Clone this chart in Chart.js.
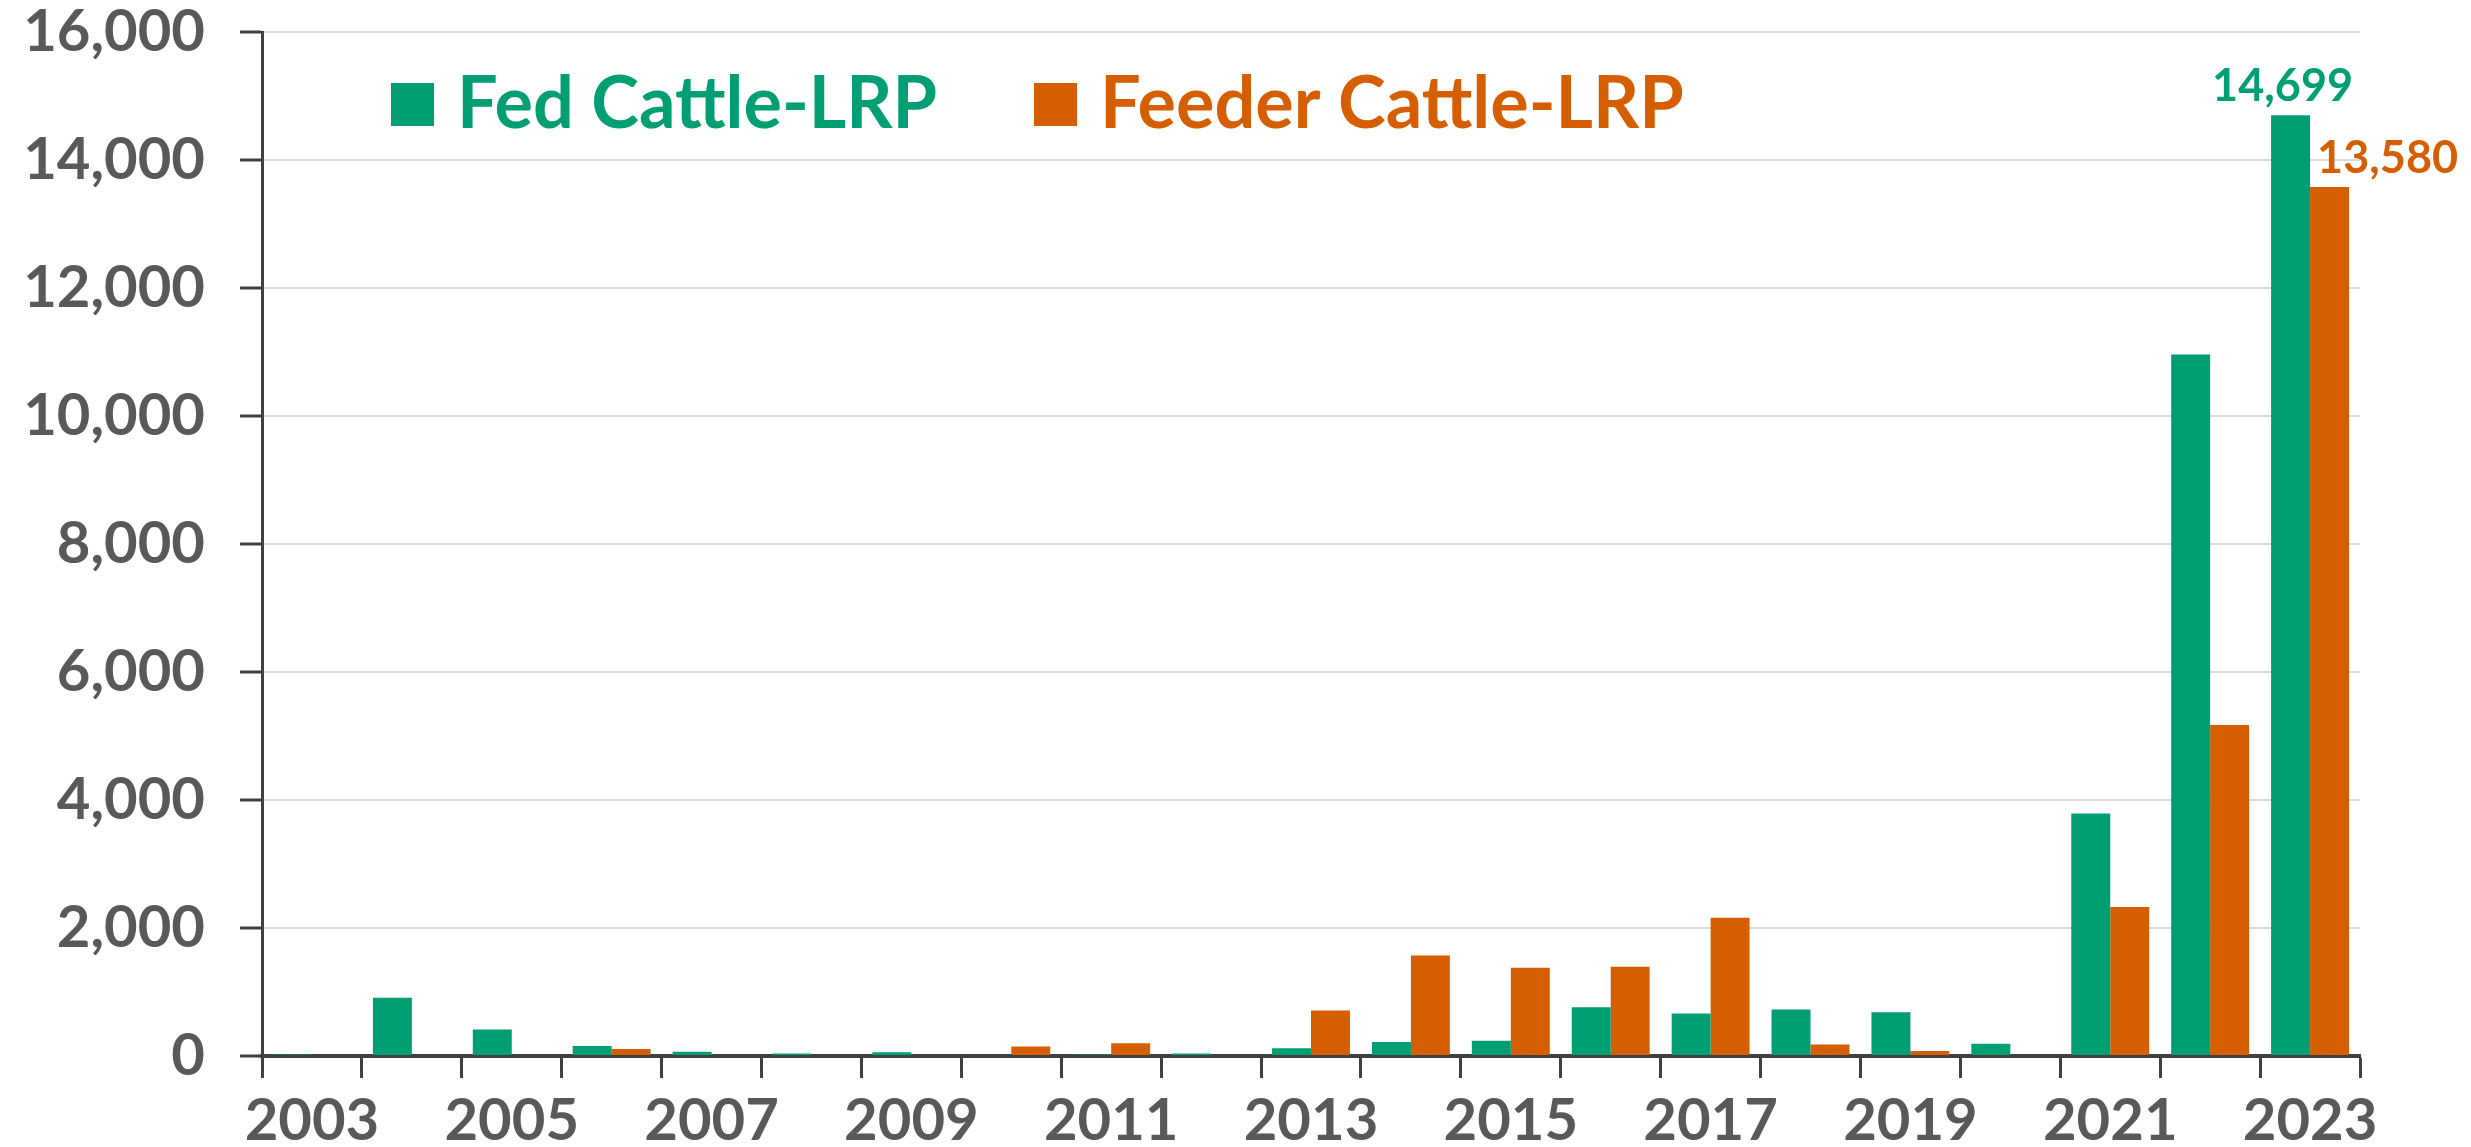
<!DOCTYPE html>
<html lang="en">
<head>
<meta charset="UTF-8">
<title>Cattle LRP</title>
<script src="https://cdn.jsdelivr.net/npm/chart.js"></script>
<style>
    html, body {
        margin: 0;
        padding: 0;
        background: #fff;
    }
    #wrap {
        width: 2471px;
        height: 1147px;
    }
</style>
</head>
<body>
<div id="wrap"><canvas id="lrpChart" width="2471" height="1147"></canvas></div>

<script>
    // data
    const years = ['2003', '2004', '2005', '2006', '2007', '2008', '2009', '2010', '2011', '2012', '2013',
        '2014', '2015', '2016', '2017', '2018', '2019', '2020', '2021', '2022', '2023'];
    const fedCattle = [25, 910, 415, 155, 65, 40, 60, 0, 25, 40, 120,
        220, 240, 760, 665, 725, 685, 190, 3790, 10960, 14699];
    const feederCattle = [0, 0, 0, 110, 0, 0, 0, 150, 200, 0, 710,
        1570, 1380, 1395, 2160, 180, 80, 0, 2330, 5170, 13580];
    const seriesNames = ['Fed Cattle-LRP', 'Feeder Cattle-LRP'];
    const yMax = 16000;
    const yStep = 2000;

    const green = '#009E73';
    const orange = '#D55E00';
    const textGray = '#595959';
    const axisDark = '#404040';
    const fontFam = 'Lato, "Open Sans", sans-serif';

    function fmt(v) {
        return Number(v).toLocaleString('en-US');
    }

    // legend drawn inside the plot area
    const innerLegend = {
        id: 'innerLegend',
        afterDraw(chart) {
            const ctx = chart.ctx;
            const items = [
                {text: seriesNames[0], color: green, x: 391},
                {text: seriesNames[1], color: orange, x: 1034}
            ];
            ctx.save();
            ctx.font = 'bold 72px ' + fontFam;
            ctx.textAlign = 'left';
            ctx.textBaseline = 'alphabetic';
            items.forEach(it => {
                ctx.fillStyle = it.color;
                ctx.fillRect(it.x, 83, 43, 43);
                ctx.fillText(it.text, it.x + 66, 128);
            });
            ctx.restore();
        }
    };

    // value labels only on the last year
    const lastLabels = {
        id: 'lastLabels',
        afterDatasetsDraw(chart) {
            const ctx = chart.ctx;
            const last = years.length - 1;
            const g = chart.getDatasetMeta(0).data[last];
            const o = chart.getDatasetMeta(1).data[last];
            ctx.save();
            ctx.font = 'bold 45px ' + fontFam;
            ctx.textBaseline = 'alphabetic';
            ctx.fillStyle = green;
            ctx.textAlign = 'center';
            ctx.fillText(fmt(fedCattle[last]), g.x - 8, g.y - 14);
            ctx.fillStyle = orange;
            ctx.textAlign = 'left';
            ctx.fillText(fmt(feederCattle[last]), o.x - o.width / 2 + 7, o.y - 14);
            ctx.restore();
        }
    };

    const ctx = document.getElementById('lrpChart').getContext('2d');
    const lrpChart = new Chart(ctx, {
        type: 'bar',
        data: {
            labels: years,
            datasets: [{
                label: seriesNames[0],
                data: fedCattle,
                backgroundColor: green,
                borderWidth: 0
            }, {
                label: seriesNames[1],
                data: feederCattle,
                backgroundColor: orange,
                borderWidth: 0
            }]
        },
        options: {
            responsive: false,
            animation: false,
            devicePixelRatio: 1,
            categoryPercentage: 0.78,
            barPercentage: 1.0,
            layout: {
                padding: {top: 32, right: 111, bottom: 0, left: 0}
            },
            plugins: {
                legend: {display: false},
                tooltip: {enabled: false}
            },
            scales: {
                x: {
                    grid: {
                        display: true,
                        drawOnChartArea: false,
                        drawTicks: true,
                        tickLength: 22,
                        tickColor: axisDark,
                        tickWidth: 3,
                        offset: true
                    },
                    border: {
                        display: true,
                        color: axisDark,
                        width: 4
                    },
                    ticks: {
                        autoSkip: false,
                        maxRotation: 0,
                        padding: 14,
                        color: textGray,
                        font: {family: fontFam, size: 58, weight: 'bold', lineHeight: 1},
                        callback: function (v, i) {
                            return i % 2 === 0 ? years[i] : '';
                        }
                    },
                    afterFit(scale) {
                        scale.height = 91;
                    }
                },
                y: {
                    min: 0,
                    max: yMax,
                    grid: {
                        color: '#d9d9d9',
                        lineWidth: 2,
                        drawTicks: true,
                        tickLength: 22,
                        tickColor: axisDark,
                        tickWidth: 3
                    },
                    border: {
                        display: true,
                        color: axisDark,
                        width: 3
                    },
                    ticks: {
                        stepSize: yStep,
                        padding: 35,
                        color: textGray,
                        font: {family: fontFam, size: 58, weight: 'bold', lineHeight: 1},
                        callback: v => fmt(v)
                    },
                    afterFit(scale) {
                        scale.width = 262;
                        // keep the plot top set by layout padding only
                        scale.paddingTop = 0;
                        scale.paddingBottom = 0;
                    }
                }
            }
        },
        plugins: [innerLegend, lastLabels]
    });
</script>
</body>
</html>
